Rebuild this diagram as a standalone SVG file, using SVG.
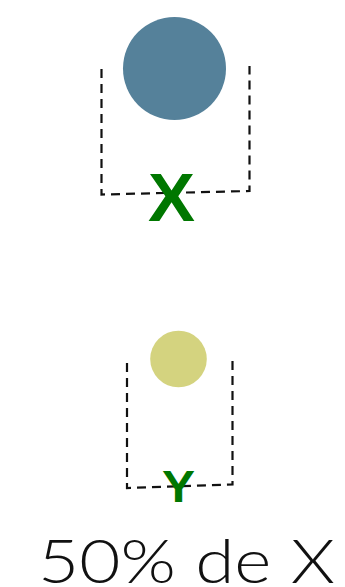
<svg xmlns="http://www.w3.org/2000/svg" width="345" height="587" viewBox="0 0 345 587">
<style>
.dash{fill:none;stroke:#111;stroke-width:2.2;stroke-dasharray:9,6}
.lbl{font-family:"Liberation Sans",Arial,sans-serif;font-weight:bold;fill:#007700;text-anchor:middle}
.cap{font-family:Lato,"Liberation Sans",sans-serif;font-weight:300;fill:#111}
</style>
<rect width="345" height="587" fill="#fff"/>
<g id="nodeX">
<path class="dash" d="M101.5,69 L101.5,194.5 L249.5,191 L249.5,66"/>
<circle cx="174.5" cy="68.5" r="51.5" fill="#55819a"/>
<text class="lbl" x="171.5" y="221" font-size="68" textLength="47" lengthAdjust="spacingAndGlyphs">X</text>
</g>
<g id="nodeY">
<path class="dash" d="M127,363 L127,488 L232.5,484.5 L232.5,359"/>
<circle cx="178.5" cy="359" r="28.3" fill="#d4d37f"/>
<text class="lbl" x="178.5" y="502" font-size="45" textLength="33" lengthAdjust="spacingAndGlyphs">Y</text>
</g>
<g id="caption">
<text class="cap" x="38" y="583" font-size="61" textLength="297" lengthAdjust="spacingAndGlyphs">50% de X</text>
</g>
</svg>
